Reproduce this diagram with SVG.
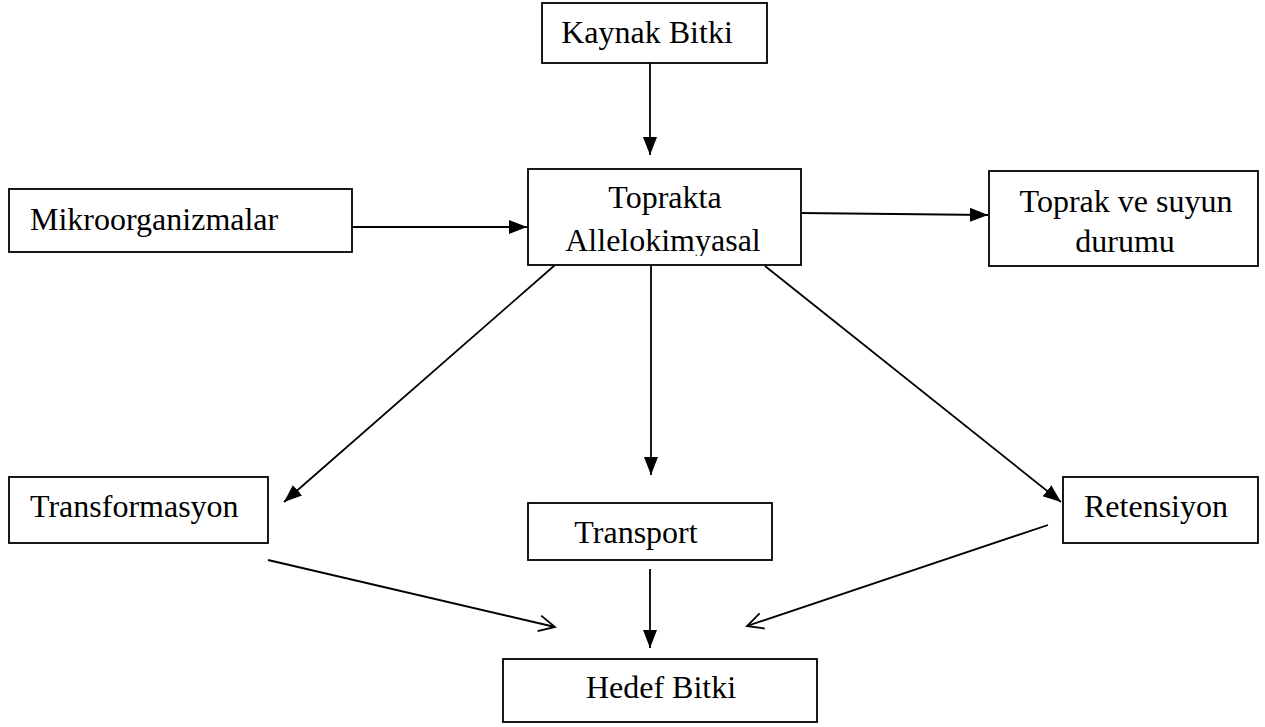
<svg xmlns="http://www.w3.org/2000/svg" width="1265" height="727" viewBox="0 0 1265 727">
<style>
.box{fill:#fff;stroke:#000;stroke-width:1.8}
.t{font-family:"Liberation Serif","Times New Roman",serif;font-size:32px;fill:#000}
.c{text-anchor:middle}
.ln{stroke:#000;stroke-width:1.8;fill:none}
</style>
<defs>
<marker id="fa" markerUnits="userSpaceOnUse" markerWidth="19" markerHeight="16" refX="18" refY="8" orient="auto">
<path d="M0,1 L18,8 L0,15 z" fill="#000"/>
</marker>
<marker id="oa" markerUnits="userSpaceOnUse" markerWidth="20" markerHeight="22" refX="17" refY="11" orient="auto">
<path d="M1,3 L17,11 L1,19" fill="none" stroke="#000" stroke-width="1.8"/>
</marker>
<clipPath id="clipA"><rect x="528" y="169" width="273" height="87"/></clipPath>
</defs>
<rect width="1265" height="727" fill="#fff"/>
<g id="connectors">
<line class="ln" x1="650" y1="63" x2="650" y2="155" marker-end="url(#fa)"/>
<line class="ln" x1="352" y1="227" x2="527" y2="227" marker-end="url(#fa)"/>
<line class="ln" x1="801" y1="213" x2="988" y2="215" marker-end="url(#fa)"/>
<line class="ln" x1="555" y1="265" x2="284" y2="502" marker-end="url(#fa)"/>
<line class="ln" x1="651" y1="265" x2="651" y2="475" marker-end="url(#fa)"/>
<line class="ln" x1="765" y1="266" x2="1061" y2="502" marker-end="url(#fa)"/>
<line class="ln" x1="650" y1="569" x2="650" y2="648" marker-end="url(#fa)"/>
<line class="ln" x1="268" y1="560" x2="555" y2="627" marker-end="url(#oa)"/>
<line class="ln" x1="1048" y1="525" x2="747" y2="626" marker-end="url(#oa)"/>
</g>
<g id="kaynak">
<rect class="box" x="542" y="3" width="225" height="60"/>
<text class="t c" x="647" y="43">Kaynak Bitki</text>
</g>
<g id="mikro">
<rect class="box" x="9" y="189" width="343" height="63"/>
<text class="t" x="30" y="230">Mikroorganizmalar</text>
</g>
<g id="toprakta">
<rect class="box" x="528" y="169" width="273" height="96"/>
<text class="t c" x="665" y="208">Toprakta</text>
<text class="t c" x="663" y="251" clip-path="url(#clipA)">Allelokimyasal</text>
</g>
<g id="toprakvesu">
<rect class="box" x="989" y="171" width="269" height="95"/>
<text class="t c" x="1126" y="212">Toprak ve suyun</text>
<text class="t c" x="1125" y="252">durumu</text>
</g>
<g id="transformasyon">
<rect class="box" x="9" y="477" width="259" height="66"/>
<text class="t" x="30" y="517">Transformasyon</text>
</g>
<g id="transport">
<rect class="box" x="528" y="503" width="244" height="57"/>
<text class="t c" x="636" y="543">Transport</text>
</g>
<g id="retensiyon">
<rect class="box" x="1063" y="477" width="195" height="66"/>
<text class="t c" x="1156" y="517">Retensiyon</text>
</g>
<g id="hedef">
<rect class="box" x="503" y="659" width="314" height="63"/>
<text class="t c" x="661" y="698">Hedef Bitki</text>
</g>
</svg>
